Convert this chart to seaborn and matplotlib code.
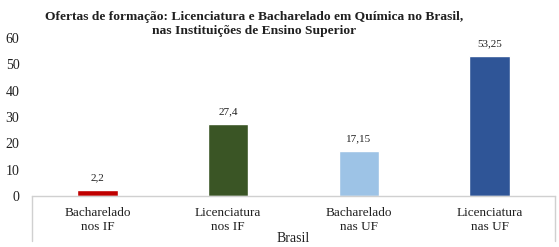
import matplotlib
matplotlib.use("Agg")
import matplotlib.pyplot as plt
import seaborn as sns
import pandas as pd

categories = ["Bacharelado\nnos IF", "Licenciatura\nnos IF", "Bacharelado\nnas UF", "Licenciatura\nnas UF"]
values = [2.2, 27.4, 17.15, 53.25]
value_labels = ["2,2", "27,4", "17,15", "53,25"]
colors = ["#C00000", "#3A5525", "#9DC3E6", "#2F5597"]
yticks = [0, 10, 20, 30, 40, 50, 60]
group_label = "Brasil"
title = "Ofertas de formação: Licenciatura e Bacharelado em Química no Brasil,\nnas Instituições de Ensino Superior"

sns.set_theme(style="white")
plt.rcParams["font.family"] = ["Liberation Serif", "DejaVu Serif"]

df = pd.DataFrame({"cat": categories, "val": values})

fig = plt.figure(figsize=(5.59, 2.47), dpi=100)
ax = fig.add_axes([32/559, 51/247, 523/559, 158/247])
sns.barplot(data=df, x="cat", y="val", hue="cat", palette=colors, width=0.31,
            legend=False, ax=ax, saturation=1)

ax.set_ylim(0, 60)
ax.set_xlim(-0.5, 3.5)
ax.set_yticks(yticks)
ax.set_yticklabels([str(t) for t in yticks], fontsize=10, color="#202020")
ax.tick_params(axis="y", length=0, pad=9)
ax.tick_params(axis="x", length=0, pad=8, labelsize=9.5, colors="#202020")
for s in ["top", "right", "left"]:
    ax.spines[s].set_visible(False)
ax.spines["bottom"].set_color("#D0D0D0")
ax.spines["bottom"].set_linewidth(1)
ax.set_ylabel("")
ax.set_xlabel(group_label, fontsize=10, color="#202020", labelpad=-1)

for x in [-0.5, 3.5]:
    ax.plot([x, x], [0, -17], color="#D0D0D0", lw=1, clip_on=False,
            transform=ax.transData)

for i, (v, lab) in enumerate(zip(values, value_labels)):
    ax.text(i, v + 3.0, lab, ha="center", va="bottom", fontsize=8, color="#202020")

fig.text(0.455, 0.955, title, ha="center", va="top", fontsize=9.7,
         fontweight="bold", linespacing=1.25, color="#202020")

fig.savefig("out.png", dpi=100)
